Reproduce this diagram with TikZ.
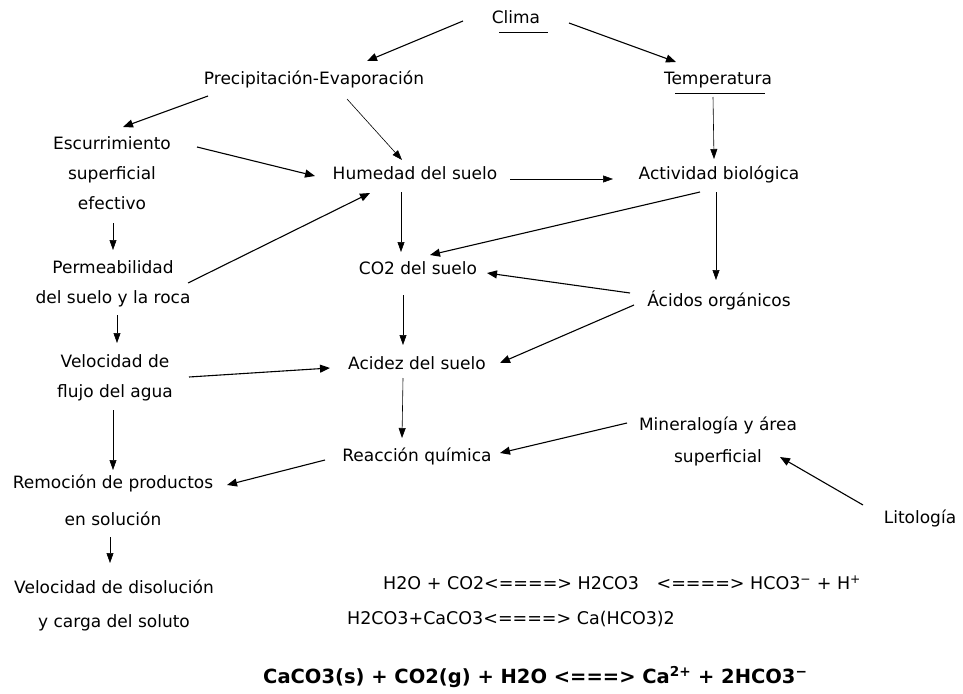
\documentclass[tikz,border=0pt]{standalone}
\usepackage{fontspec}
\setmainfont{DejaVu Sans}
\usetikzlibrary{arrows.meta}

\tikzset{
  concepto/.style={inner sep=0pt, align=center, font=\fontsize{17}{30}\selectfont},
  ecuacion/.style={inner sep=0pt, anchor=west, font=\fontsize{17.5}{20}\selectfont},
  flecha/.style={-{Triangle[length=10pt,width=8pt]}, line width=1.1pt},
  flechafina/.style={-{Triangle[length=10pt,width=7pt]}, line width=0.6pt},
}

\begin{document}
\begin{tikzpicture}[x=1pt,y=-1pt]
\useasboundingbox (0,0) rectangle (963,693);
% conceptos
\node[concepto] (clima) at (516,17) {Clima};
\node[concepto] (precip) at (314,79) {Precipitación-Evaporación};
\node[concepto] (temp) at (718,80) {Temperatura};
\node[concepto] (escurr) at (112,173) {Escurrimiento\\superficial\\efectivo};
\node[concepto] (humedad) at (415,173) {Humedad del suelo};
\node[concepto] (activ) at (719,174) {Actividad biológica};
\node[concepto] (perm) at (113,284) {Permeabilidad\\del suelo y la roca};
\node[concepto] (co2) at (418,268) {CO2 del suelo};
\node[concepto] (acidos) at (719,300) {Ácidos orgánicos};
\node[concepto] (veloc) at (115,378) {Velocidad de\\flujo del agua};
\node[concepto] (acidez) at (417,363) {Acidez del suelo};
\node[concepto] (reaccion) at (417,456) {Reacción química};
\node[concepto, font=\fontsize{17}{32}\selectfont] (miner) at (718,441) {Mineralogía y área\\superficial};
\node[concepto, font=\fontsize{17}{37}\selectfont] (remocion) at (113,500) {Remoción de productos\\en solución};
\node[concepto] (lito) at (920,518) {Litología};
\node[concepto, font=\fontsize{17}{34}\selectfont] (disol) at (114,605) {Velocidad de disolución\\y carga del soluto};
% ecuaciones
\node[ecuacion] (eqa) at (383,583) {H2O + CO2<====> H2CO3\quad<====> HCO3\textsuperscript{−} + H\textsuperscript{+}};
\node[ecuacion] (eqb) at (347,619) {H2CO3+CaCO3<====> Ca(HCO3)2};
\node[ecuacion, font=\fontsize{19.5}{20}\bfseries] (eqc) at (263,677) {CaCO3(s) + CO2(g) + H2O <===> Ca\textsuperscript{2+} + 2HCO3\textsuperscript{−}};
% subrayados
\draw[line width=0.8pt] ([shift={(-17,15)}]clima.center) -- ([shift={(32,15)}]clima.center);
\draw[line width=0.8pt] ([shift={(-43,13)}]temp.center) -- ([shift={(47,13)}]temp.center);
% flechas
\draw[flecha] ([shift={(-53,4)}]clima.center) -- ([shift={(53,-18)}]precip.center);
\draw[flecha] ([shift={(53,6)}]clima.center) -- ([shift={(-42,-18)}]temp.center);
\draw[flecha] ([shift={(-106,17)}]precip.center) -- ([shift={(11,-46)}]escurr.center);
\draw[flechafina] ([shift={(33,20)}]precip.center) -- ([shift={(-13,-13)}]humedad.center);
\draw[flecha] ([shift={(85,-26)}]escurr.center) -- ([shift={(-100,3)}]humedad.center);
\draw[flechafina] ([shift={(-5,17)}]temp.center) -- ([shift={(-5,-15)}]activ.center);
\draw[flechafina] ([shift={(95,6)}]humedad.center) -- ([shift={(-106,5)}]activ.center);
\draw[flechafina] ([shift={(1,50)}]escurr.center) -- ([shift={(0,-34)}]perm.center);
\draw[flecha] ([shift={(75,-1)}]perm.center) -- ([shift={(-45,20)}]humedad.center);
\draw[flechafina] ([shift={(-14,19)}]humedad.center) -- ([shift={(-17,-16)}]co2.center);
\draw[flecha] ([shift={(-19,18)}]activ.center) -- ([shift={(12,-13)}]co2.center);
\draw[flechafina] ([shift={(-3,18)}]activ.center) -- ([shift={(-3,-20)}]acidos.center);
\draw[flecha] ([shift={(-89,-7)}]acidos.center) -- ([shift={(69,5)}]co2.center);
\draw[flecha] ([shift={(-85,5)}]acidos.center) -- ([shift={(83,0)}]acidez.center);
\draw[flechafina] ([shift={(-15,27)}]co2.center) -- ([shift={(-14,-18)}]acidez.center);
\draw[flechafina] ([shift={(4,31)}]perm.center) -- ([shift={(2,-35)}]veloc.center);
\draw[flecha] ([shift={(74,-1)}]veloc.center) -- ([shift={(-87,5)}]acidez.center);
\draw[flechafina] ([shift={(-14,15)}]acidez.center) -- ([shift={(-15,-18)}]reaccion.center);
\draw[flechafina] ([shift={(-2,32)}]veloc.center) -- ([shift={(0,-30)}]remocion.center);
\draw[flecha] ([shift={(-91,-18)}]miner.center) -- ([shift={(83,-3)}]reaccion.center);
\draw[flecha] ([shift={(-92,4)}]reaccion.center) -- ([shift={(114,-15)}]remocion.center);
\draw[flecha] ([shift={(-57,-13)}]lito.center) -- ([shift={(62,16)}]miner.center);
\draw[flechafina] ([shift={(-3,37)}]remocion.center) -- ([shift={(-4,-42)}]disol.center);
\end{tikzpicture}
\end{document}
